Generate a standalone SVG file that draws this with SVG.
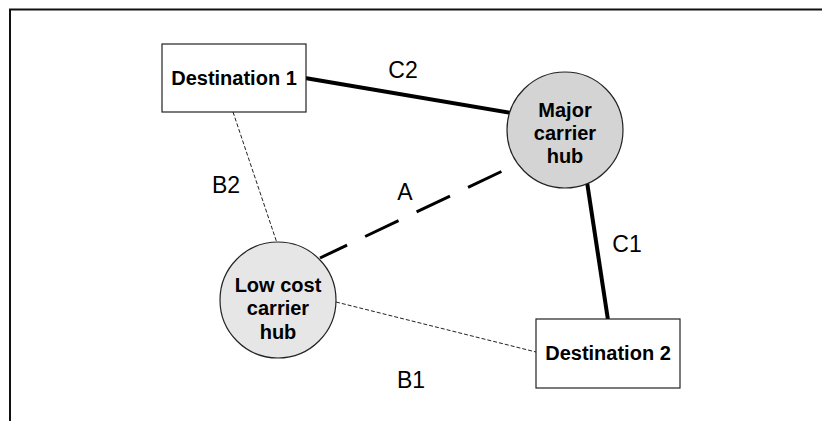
<svg xmlns="http://www.w3.org/2000/svg" width="822" height="421" viewBox="0 0 822 421">
  <style>
    .frame { stroke: #111; stroke-width: 2; fill: none; }
    .box { fill: #fff; stroke: #222; stroke-width: 1.2; }
    .hub { stroke: #222; stroke-width: 1.2; }
    .node-text { font-family: "Liberation Sans", Arial, sans-serif; font-weight: bold; font-size: 20px; text-anchor: middle; fill: #000; }
    .label { font-family: "Liberation Sans", Arial, sans-serif; font-size: 23px; text-anchor: middle; fill: #000; }
    .strong { stroke: #000; stroke-width: 4; fill: none; }
    .long-dash { stroke: #000; stroke-width: 3; stroke-dasharray: 37 20; stroke-dashoffset: 7; fill: none; }
    .thin-dash { stroke: #222; stroke-width: 1; stroke-dasharray: 4 2; fill: none; }
  </style>
  <rect width="822" height="421" fill="#fff"/>

  <!-- outer frame -->
  <path class="frame" d="M10 421 V9.5 H822"/>

  <!-- connectors -->
  <g id="connectors">
    <line class="strong" x1="305" y1="78" x2="511" y2="113"/>
    <line class="strong" x1="587" y1="182" x2="608" y2="320"/>
    <line class="long-dash" x1="320" y1="258" x2="513" y2="166"/>
    <line class="thin-dash" x1="233" y1="112" x2="277" y2="243"/>
    <line class="thin-dash" x1="336" y1="302" x2="536" y2="352"/>
    <text class="label" x="403" y="78">C2</text>
    <text class="label" x="627" y="252">C1</text>
    <text class="label" x="405" y="200">A</text>
    <text class="label" x="226" y="193">B2</text>
    <text class="label" x="411" y="388">B1</text>
  </g>

  <!-- nodes -->
  <g id="destination-1">
    <rect class="box" x="162" y="44" width="144" height="68"/>
    <text class="node-text" x="234" y="85">Destination 1</text>
  </g>
  <g id="destination-2">
    <rect class="box" x="536" y="319" width="144" height="69"/>
    <text class="node-text" x="608" y="360">Destination 2</text>
  </g>
  <g id="major-carrier-hub">
    <circle class="hub" cx="565" cy="130" r="58" fill="#d4d4d4"/>
    <text class="node-text" x="565" y="117">Major</text>
    <text class="node-text" x="565" y="140">carrier</text>
    <text class="node-text" x="565" y="163">hub</text>
  </g>
  <g id="low-cost-carrier-hub">
    <circle class="hub" cx="278" cy="300" r="58" fill="#e6e6e6"/>
    <text class="node-text" x="278" y="292">Low cost</text>
    <text class="node-text" x="278" y="315">carrier</text>
    <text class="node-text" x="278" y="339">hub</text>
  </g>
</svg>
